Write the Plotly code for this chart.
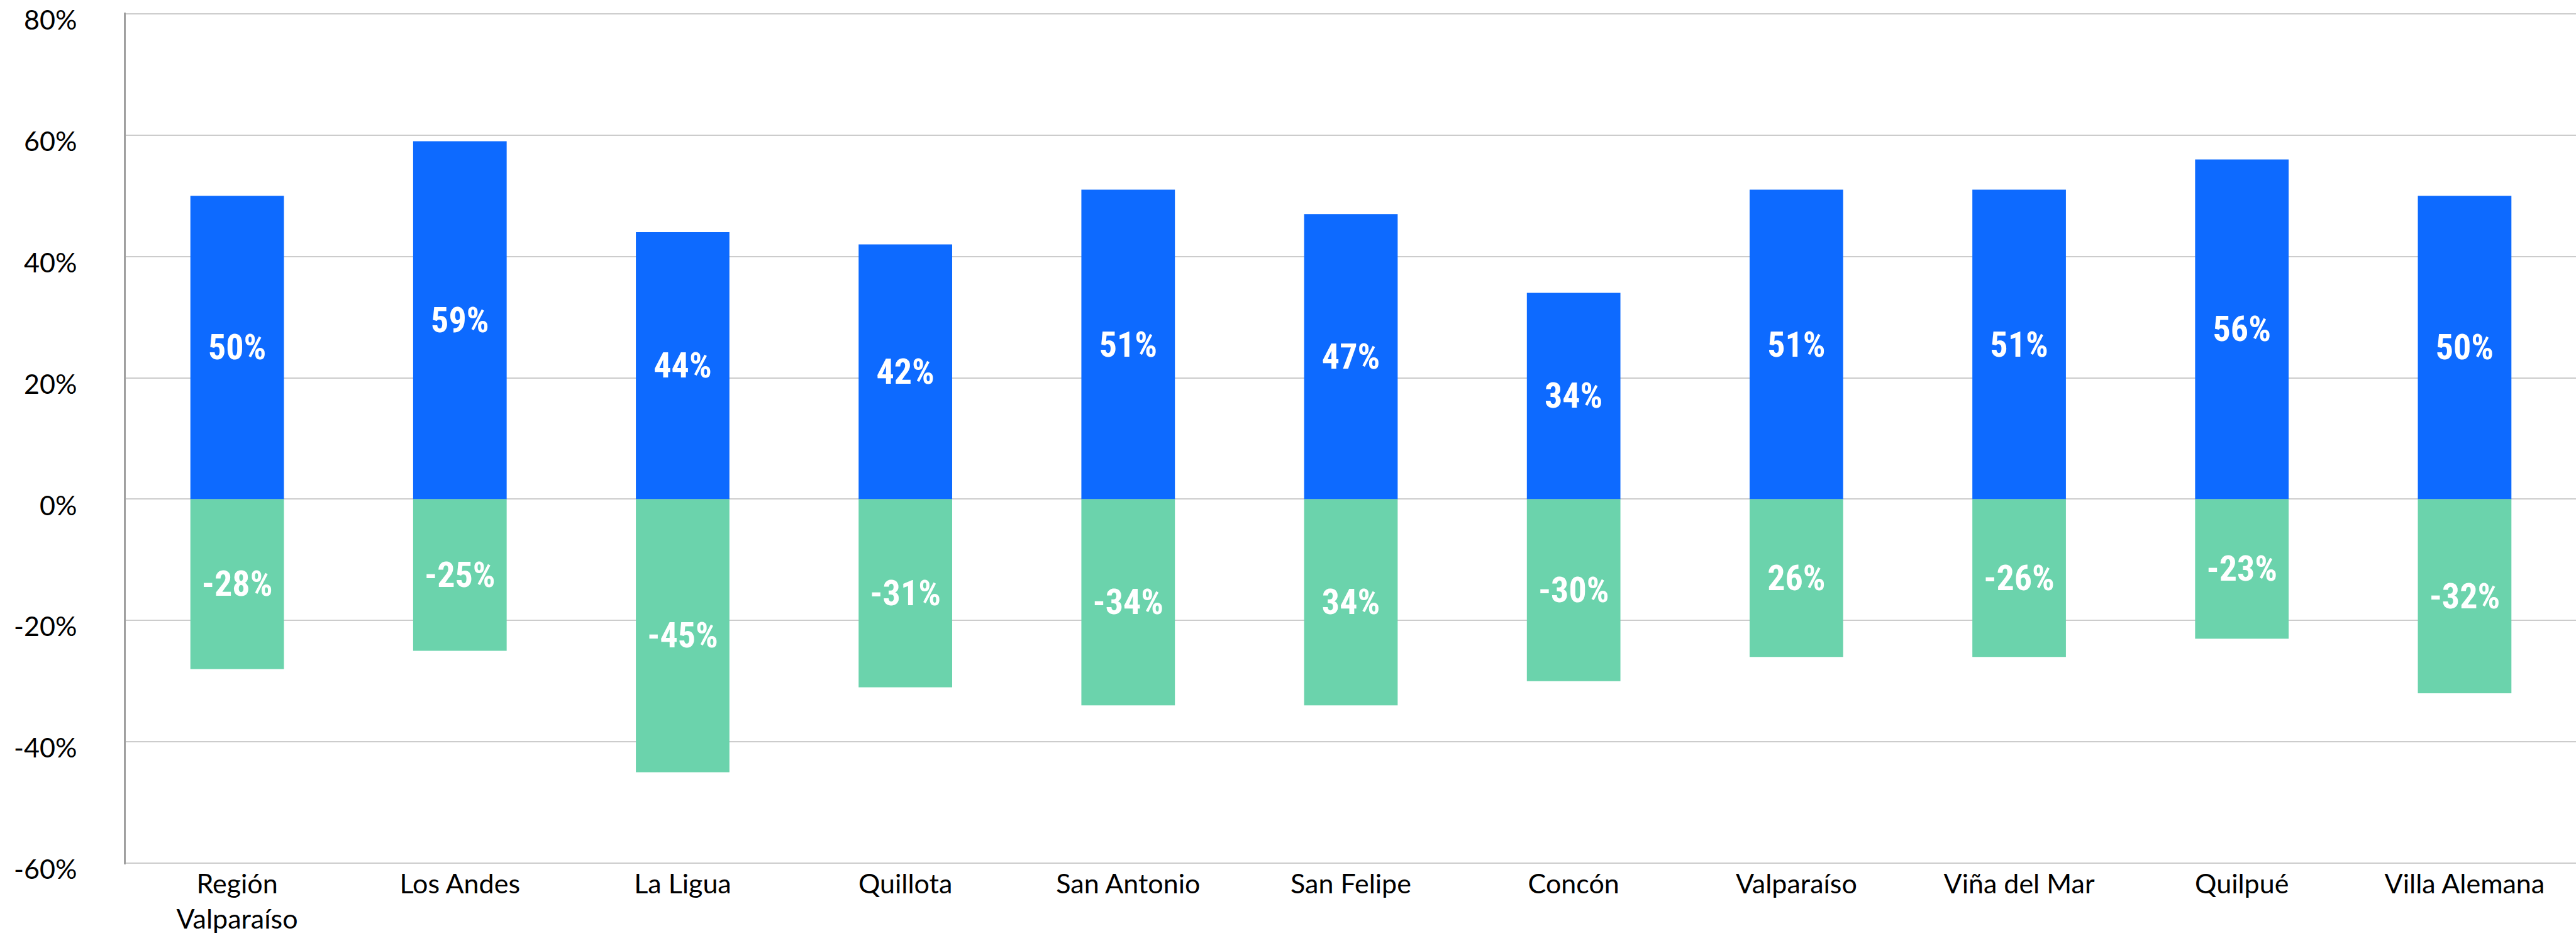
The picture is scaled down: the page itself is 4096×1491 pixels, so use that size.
import plotly.graph_objects as go

# Comunas de la Región de Valparaíso
categories = ["Región<br>Valparaíso", "Los Andes", "La Ligua", "Quillota", "San Antonio",
              "San Felipe", "Concón", "Valparaíso", "Viña del Mar", "Quilpué", "Villa Alemana"]

# Porcentajes positivos y negativos por comuna
positive_values = [50, 59, 44, 42, 51, 47, 34, 51, 51, 56, 50]
negative_values = [-28, -25, -45, -31, -34, -34, -30, -26, -26, -23, -32]

positive_labels = ["50%", "59%", "44%", "42%", "51%", "47%", "34%", "51%", "51%", "56%", "50%"]
negative_labels = ["-28%", "-25%", "-45%", "-31%", "-34%", "34%", "-30%", "26%", "-26%", "-23%", "-32%"]

y_tick_values = [80, 60, 40, 20, 0, -20, -40, -60]
y_tick_labels = ["80%", "60%", "40%", "20%", "0%", "-20%", "-40%", "-60%"]

BLUE = "#0D6AFF"
GREEN = "#6BD3AC"
label_font = dict(family="Roboto Condensed, Roboto, sans-serif",
                  size=56, color="white", weight="bold")
axis_font = dict(family="Lato", size=43, color="black")

fig = go.Figure()
fig.add_trace(go.Bar(
    x=categories, y=positive_values, text=positive_labels,
    marker=dict(color=BLUE, line=dict(width=0)),
    textposition="inside", insidetextanchor="middle",
    textfont=label_font, textangle=0, hoverinfo="skip",
))
fig.add_trace(go.Bar(
    x=categories, y=negative_values, text=negative_labels,
    marker=dict(color=GREEN, line=dict(width=0)),
    textposition="inside", insidetextanchor="middle",
    textfont=label_font, textangle=0, hoverinfo="skip",
))

fig.update_layout(
    width=4096, height=1491,
    barmode="relative", bargap=0.58,
    showlegend=False,
    plot_bgcolor="white", paper_bgcolor="white",
    margin=dict(l=200, r=0, t=20, b=117),
    font=dict(family="Lato", color="black"),
)
fig.update_xaxes(
    automargin=False,
    showgrid=False, showline=False, zeroline=False,
    tickfont=axis_font,
    ticks="", ticklabelstandoff=2,
)
fig.update_yaxes(
    automargin=False,
    range=[-60.2, 80.2], tickvals=y_tick_values, ticktext=y_tick_labels,
    showgrid=True, gridcolor="#CCCCCC", gridwidth=2,
    zeroline=True, zerolinecolor="#CCCCCC", zerolinewidth=2,
    showline=True, linecolor="#A0A0A0", linewidth=3,
    tickfont=axis_font,
    ticks="", ticklabelstandoff=66, ticklabelshift=10, ticklabeloverflow="allow",
)

fig.write_html("out.html")
